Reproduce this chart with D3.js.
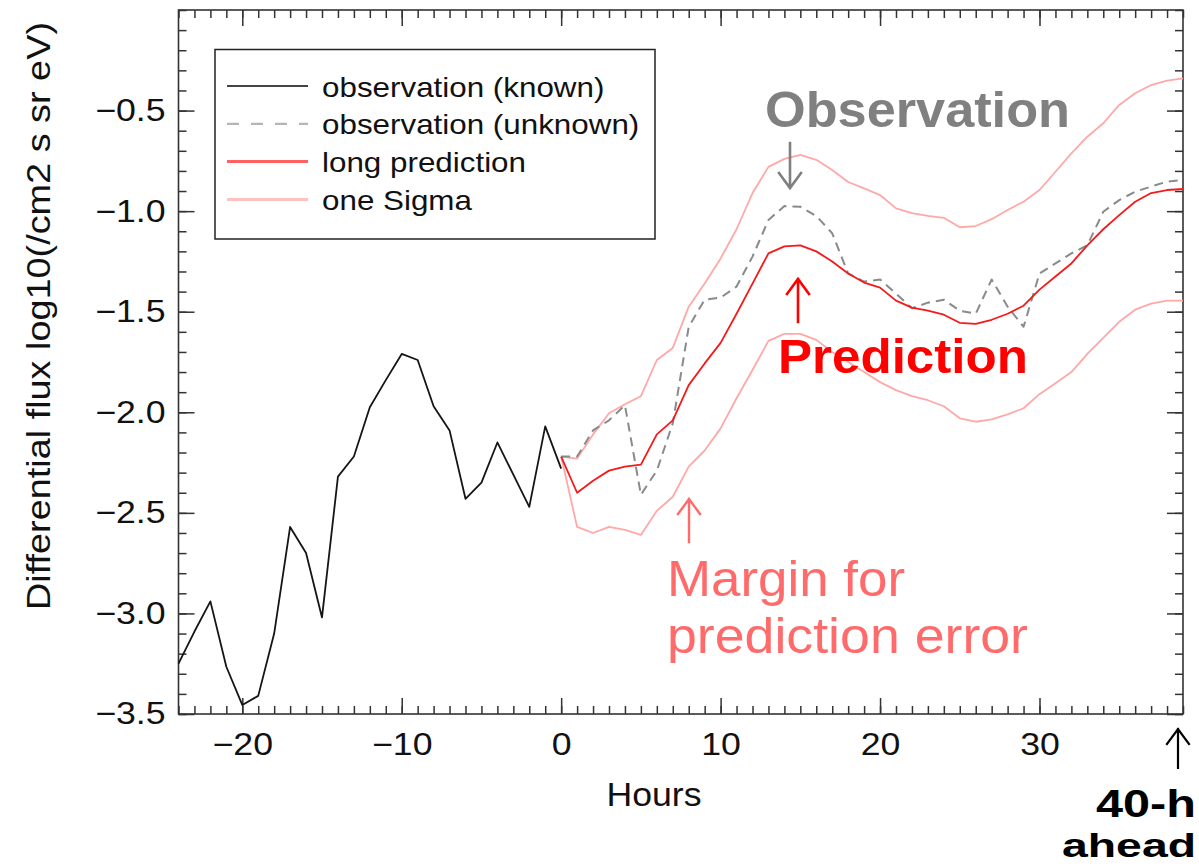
<!DOCTYPE html>
<html lang="en">
<head>
<meta charset="utf-8">
<script src="https://d3js.org/d3.v7.min.js"></script>
<style>
  body { margin: 0; background: #fff; }
  text { font-family: "Liberation Sans", Arial, Helvetica, sans-serif; }
</style>
</head>
<body>
<script>
// observed flux before forecast start (hours -24 .. 0)
const knownHours = [-24, -23, -22, -21, -20, -19, -18, -17, -16, -15, -14, -13, -12,
                    -11, -10, -9, -8, -7, -6, -5, -4, -3, -2, -1, 0];
const knownFlux = [-3.25, -3.09, -2.94, -3.265, -3.455, -3.41, -3.10, -2.57, -2.70, -3.02,
                   -2.32, -2.22, -1.975, -1.84, -1.71, -1.74, -1.97, -2.09, -2.43, -2.35,
                   -2.15, -2.31, -2.47, -2.07, -2.28];

// forecast window (hours 0 .. 39)
const aheadHours = [0, 1, 2, 3, 4, 5, 6, 7, 8, 9, 10, 11, 12, 13, 14, 15, 16, 17, 18, 19,
                    20, 21, 22, 23, 24, 25, 26, 27, 28, 29, 30, 31, 32, 33, 34, 35, 36, 37, 38, 39];
const unknownFlux = [-2.22, -2.22, -2.09, -2.04, -1.965, -2.41, -2.29, -2.055, -1.575, -1.44,
                     -1.43, -1.375, -1.226, -1.044, -0.975, -0.978, -1.024, -1.11, -1.31, -1.35,
                     -1.34, -1.41, -1.483, -1.455, -1.44, -1.495, -1.51, -1.34, -1.475, -1.575,
                     -1.31, -1.26, -1.21, -1.17, -1.003, -0.945, -0.903, -0.878, -0.853, -0.845];
const predFlux = [-2.22, -2.40, -2.34, -2.29, -2.27, -2.26, -2.11, -2.04, -1.865, -1.757,
                  -1.655, -1.51, -1.36, -1.21, -1.175, -1.17, -1.20, -1.25, -1.31, -1.355,
                  -1.38, -1.445, -1.48, -1.495, -1.515, -1.555, -1.56, -1.54, -1.51, -1.47,
                  -1.39, -1.325, -1.26, -1.17, -1.09, -1.02, -0.953, -0.91, -0.895, -0.89];
const sigmaUpper = [-2.22, -2.23, -2.11, -2.005, -1.96, -1.92, -1.74, -1.68, -1.475, -1.36,
                    -1.235, -1.09, -0.91, -0.78, -0.74, -0.72, -0.745, -0.795, -0.855, -0.887,
                    -0.92, -0.986, -1.01, -1.024, -1.033, -1.08, -1.074, -1.04, -0.994, -0.953,
                    -0.895, -0.804, -0.713, -0.63, -0.563, -0.472, -0.414, -0.373, -0.351, -0.34];
const sigmaLower = [-2.22, -2.57, -2.60, -2.57, -2.585, -2.61, -2.49, -2.42, -2.27, -2.19,
                    -2.08, -1.93, -1.79, -1.645, -1.61, -1.61, -1.64, -1.70, -1.75, -1.80,
                    -1.85, -1.89, -1.92, -1.94, -1.97, -2.03, -2.047, -2.035, -2.01, -1.98,
                    -1.91, -1.856, -1.80, -1.71, -1.63, -1.55, -1.49, -1.46, -1.445, -1.445];

const xTicks = [-20, -10, 0, 10, 20, 30];
const yTicks = [-0.5, -1.0, -1.5, -2.0, -2.5, -3.0, -3.5];
const legendLabels = ["observation (known)", "observation (unknown)", "long prediction", "one Sigma"];

const width = 1199, height = 866;
const plot = {left: 178.5, right: 1183, top: 10, bottom: 714};

const svg = d3.select("body").append("svg")
    .attr("width", width)
    .attr("height", height)
    .style("display", "block");

const x = d3.scaleLinear().domain([-24, 39]).range([plot.left, plot.right]);
const y = d3.scaleLinear().domain([-3.5, 0]).range([plot.bottom, plot.top]);

// stretch text a little wider, the original plot fonts are wide
function stretch(sel, k) {
    sel.each(function() {
        const w = this.getComputedTextLength();
        d3.select(this).attr("textLength", w * k).attr("lengthAdjust", "spacingAndGlyphs");
    });
}

const hourTicks = d3.range(-24, 40);
const tenthTicks = d3.range(-35, 1).map(d => d / 10);

// bottom axis: minor + major ticks, pointing inward
svg.append("g")
    .attr("transform", "translate(0," + plot.bottom + ")")
    .call(d3.axisBottom(x).tickValues(hourTicks).tickSizeInner(-8).tickSizeOuter(0).tickFormat(""));
const xAxis = svg.append("g")
    .attr("transform", "translate(0," + plot.bottom + ")")
    .call(d3.axisBottom(x).tickValues(xTicks).tickSizeInner(-16).tickSizeOuter(0)
        .tickPadding(19).tickFormat(d3.format("d")));
xAxis.selectAll("text").attr("font-size", 31).attr("fill", "#111");
stretch(xAxis.selectAll("text"), 1.15);

// top axis
svg.append("g")
    .attr("transform", "translate(0," + plot.top + ")")
    .call(d3.axisTop(x).tickValues(hourTicks).tickSizeInner(-8).tickSizeOuter(0).tickFormat(""));
svg.append("g")
    .attr("transform", "translate(0," + plot.top + ")")
    .call(d3.axisTop(x).tickValues(xTicks).tickSizeInner(-16).tickSizeOuter(0).tickFormat(""));

// left axis
svg.append("g")
    .attr("transform", "translate(" + plot.left + ",0)")
    .call(d3.axisLeft(y).tickValues(tenthTicks).tickSizeInner(-8).tickSizeOuter(0).tickFormat(""));
const yAxis = svg.append("g")
    .attr("transform", "translate(" + plot.left + ",0)")
    .call(d3.axisLeft(y).tickValues(yTicks).tickSizeInner(-16).tickSizeOuter(0)
        .tickPadding(13).tickFormat(d3.format(".1f")));
yAxis.selectAll("text").attr("font-size", 31).attr("fill", "#111");
stretch(yAxis.selectAll("text"), 1.15);

// right axis
svg.append("g")
    .attr("transform", "translate(" + plot.right + ",0)")
    .call(d3.axisRight(y).tickValues(tenthTicks).tickSizeInner(-8).tickSizeOuter(0).tickFormat(""));
svg.append("g")
    .attr("transform", "translate(" + plot.right + ",0)")
    .call(d3.axisRight(y).tickValues(yTicks).tickSizeInner(-16).tickSizeOuter(0).tickFormat(""));

svg.selectAll(".domain").remove();
svg.selectAll(".tick line").attr("stroke", "#333").attr("stroke-width", 1.5);

// frame
svg.append("rect")
    .attr("x", plot.left).attr("y", plot.top)
    .attr("width", plot.right - plot.left).attr("height", plot.bottom - plot.top)
    .attr("fill", "none").attr("stroke", "#333").attr("stroke-width", 1.6);

// axis titles
const hoursLabel = svg.append("text")
    .attr("x", 654).attr("y", 806)
    .attr("text-anchor", "middle").attr("font-size", 33).attr("fill", "#111")
    .text("Hours");
stretch(hoursLabel, 1.08);

svg.append("text")
    .attr("transform", "translate(50,316) rotate(-90)")
    .attr("text-anchor", "middle").attr("font-size", 34).attr("fill", "#111")
    .attr("textLength", 588).attr("lengthAdjust", "spacingAndGlyphs")
    .text("Differential flux log10(/cm2 s sr eV)");

// data lines
const line = d3.line().x(d => x(d[0])).y(d => y(d[1]));
const lines = svg.append("g").attr("fill", "none").attr("stroke-linejoin", "round");

lines.append("path").datum(d3.zip(aheadHours, sigmaUpper))
    .attr("d", line).attr("stroke", "#ffa8a8").attr("stroke-width", 1.8);
lines.append("path").datum(d3.zip(aheadHours, sigmaLower))
    .attr("d", line).attr("stroke", "#ffa8a8").attr("stroke-width", 1.8);
lines.append("path").datum(d3.zip(aheadHours, unknownFlux))
    .attr("d", line).attr("stroke", "#8a8a8a").attr("stroke-width", 2)
    .attr("stroke-dasharray", "9,6");
lines.append("path").datum(d3.zip(aheadHours, predFlux))
    .attr("d", line).attr("stroke", "#f41a1a").attr("stroke-width", 1.8);
lines.append("path").datum(d3.zip(knownHours, knownFlux))
    .attr("d", line).attr("stroke", "#151515").attr("stroke-width", 1.8);

// legend
const legend = svg.append("g");
legend.append("rect")
    .attr("x", 215).attr("y", 49.5).attr("width", 440).attr("height", 189.5)
    .attr("fill", "#fff").attr("stroke", "#222").attr("stroke-width", 1.5);
const legendStyles = [
    {stroke: "#444", dash: null, w: 2},
    {stroke: "#b5b5b5", dash: "12,12", w: 2.2},
    {stroke: "#ff6060", dash: null, w: 3},
    {stroke: "#ffc0c0", dash: null, w: 3}
];
legendLabels.forEach(function(label, i) {
    const ly = 86 + i * 37.8;
    legend.append("line")
        .attr("x1", 227).attr("x2", 308).attr("y1", ly).attr("y2", ly)
        .attr("stroke", legendStyles[i].stroke).attr("stroke-width", legendStyles[i].w)
        .attr("stroke-dasharray", legendStyles[i].dash);
    const t = legend.append("text")
        .attr("x", 322).attr("y", ly + 10.5)
        .attr("font-size", 28).attr("fill", "#111")
        .text(label);
    stretch(t, 1.12);
});

// annotations
function arrow(xp, yTip, yTail, colour, sw) {
    const dir = yTail > yTip ? 1 : -1;
    svg.append("path")
        .attr("d", "M" + xp + "," + yTail + "L" + xp + "," + yTip +
                   "M" + (xp - 11) + "," + (yTip + dir * 15) + "L" + xp + "," + yTip +
                   "L" + (xp + 11) + "," + (yTip + dir * 15))
        .attr("fill", "none").attr("stroke", colour).attr("stroke-width", sw)
        .attr("stroke-linecap", "square");
}

function note(txt, xp, yp, size, weight, colour, len, anchor, family) {
    svg.append("text")
        .attr("x", xp).attr("y", yp)
        .attr("text-anchor", anchor || "start")
        .attr("font-family", family || "'Noto Sans', 'DejaVu Sans', sans-serif")
        .attr("font-size", size).attr("font-weight", weight).attr("fill", colour)
        .attr("textLength", len).attr("lengthAdjust", "spacingAndGlyphs")
        .text(txt);
}

note("Observation", 765, 127, 50, "bold", "#808080", 305);
arrow(790, 188, 143, "#808080", 2.6);

arrow(798, 279, 322, "#ff0000", 2.6);
note("Prediction", 778, 373, 49, "bold", "#ff0000", 250);

arrow(689, 499, 542, "#ff6b6b", 2.4);
note("Margin for", 667, 596, 50, "normal", "#ff6b6b", 238);
note("prediction error", 667, 653, 50, "normal", "#ff6b6b", 361);

arrow(1178, 729, 768, "#000", 2.2);
note("40-h", 1196, 817, 38, "bold", "#000", 100, "end", "'DejaVu Sans', sans-serif");
note("ahead", 1196, 857, 34, "bold", "#000", 134, "end", "'DejaVu Sans', sans-serif");
</script>
</body>
</html>
